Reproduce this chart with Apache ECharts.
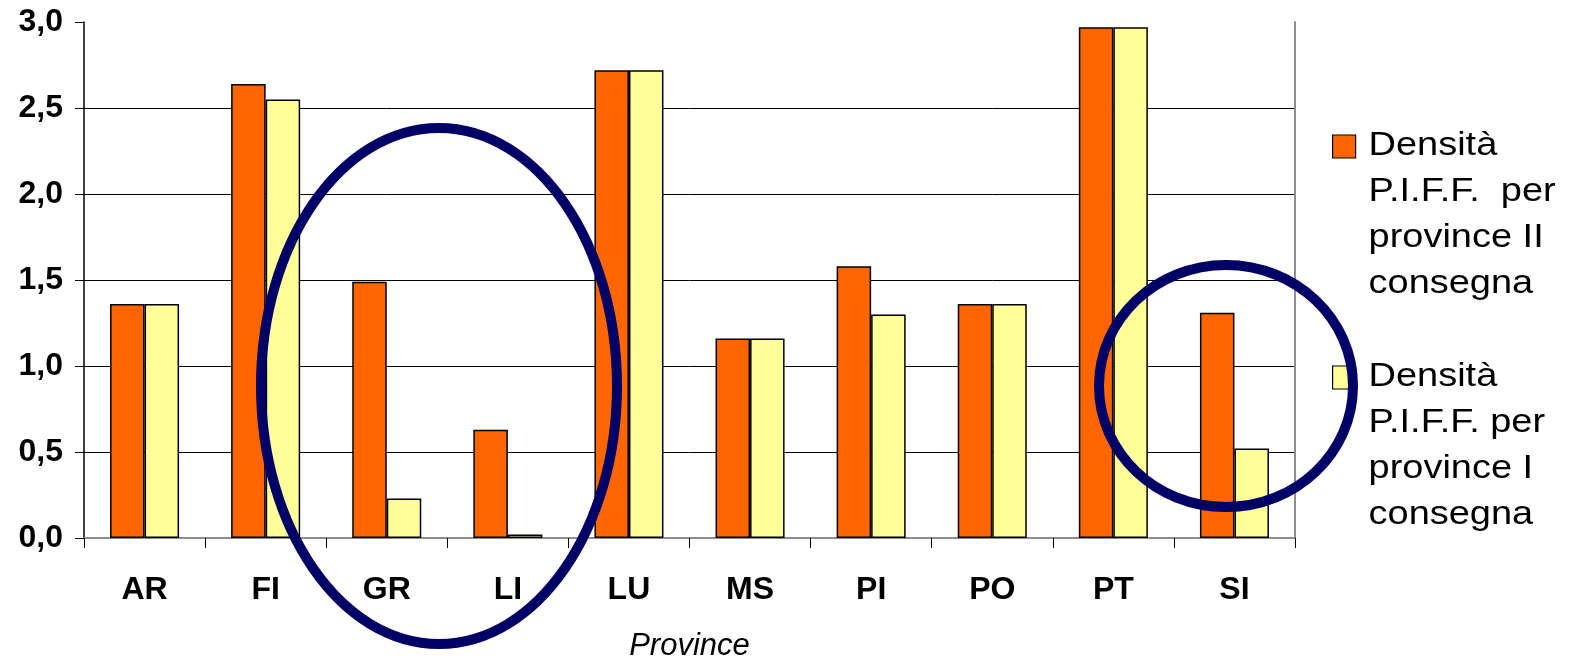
<!DOCTYPE html>
<html>
<head>
<meta charset="utf-8">
<script src="https://cdn.jsdelivr.net/npm/echarts@6/dist/echarts.min.js"></script>
<style>
  html, body { margin: 0; padding: 0; background: #ffffff; }
  #chart { width: 1582px; height: 661px; }
</style>
</head>
<body>
<div id="chart"></div>
<script>
// Provinces on the category axis
const provinces = ['AR', 'FI', 'GR', 'LI', 'LU', 'MS', 'PI', 'PO', 'PT', 'SI'];

// Series names (legend text, one line per row)
const seriesNames = [
  'Densità\nP.I.F.F.  per\nprovince II\nconsegna',
  'Densità\nP.I.F.F. per\nprovince I\nconsegna'
];

// P.I.F.F. density, second delivery
const densitySecond = [1.36, 2.64, 1.49, 0.63, 2.72, 1.16, 1.58, 1.36, 2.97, 1.31];
// P.I.F.F. density, first delivery
const densityFirst = [1.36, 2.55, 0.23, 0.02, 2.72, 1.16, 1.30, 1.36, 2.97, 0.52];

// Value axis ticks
const yTicks = [0, 0.5, 1.0, 1.5, 2.0, 2.5, 3.0];

const xAxisName = 'Province';

const seriesColors = ['#FF6600', '#FFFF99'];
const FONT = '"Liberation Sans", Arial, sans-serif';
const HIGHLIGHT = '#000066';
const FRAME = '#8f8f8f';

const chart = echarts.init(document.getElementById('chart'), null, { renderer: 'canvas' });

const yMin = yTicks[0];
const yMax = yTicks[yTicks.length - 1];
const yStep = yTicks[1] - yTicks[0];

// Legend: swatch + multi-line label, swatch aligned with the first line
function legendItem(i, top) {
  return {
    type: 'group',
    left: 1332,
    top: top,
    children: [
      {
        type: 'rect',
        shape: { x: 0, y: 12, width: 23, height: 23 },
        style: { fill: seriesColors[i], stroke: '#000', lineWidth: 1.2 }
      },
      {
        type: 'text',
        x: 36,
        y: 0,
        scaleX: 1.15,
        style: {
          text: seriesNames[i],
          font: '33px ' + FONT,
          lineHeight: 46,
          fill: '#000',
          verticalAlign: 'top'
        }
      }
    ]
  };
}

const option = {
  backgroundColor: '#ffffff',
  animation: false,
  grid: {
    left: 84, right: 287, top: 22, bottom: 123,
    outerBoundsMode: 'none',
    containLabel: false
  },
  xAxis: [
    {
      type: 'category',
      data: provinces,
      name: xAxisName,
      nameLocation: 'middle',
      nameGap: 93,
      nameTextStyle: { fontFamily: FONT, fontStyle: 'italic', fontSize: 31, color: '#000' },
      axisLine: { lineStyle: { color: '#000', width: 1.5 } },
      axisTick: { show: true, alignWithLabel: false, length: 10, lineStyle: { color: '#000', width: 1 } },
      axisLabel: { fontFamily: FONT, fontWeight: 'bold', fontSize: 32, color: '#000', margin: 36 }
    },
    {
      // plot frame, top edge
      type: 'category',
      data: provinces,
      position: 'top',
      axisLine: { lineStyle: { color: FRAME, width: 2 } },
      axisTick: { show: false },
      axisLabel: { show: false },
      splitLine: { show: false }
    }
  ],
  yAxis: [
    {
      type: 'value',
      min: yMin,
      max: yMax,
      interval: yStep,
      axisLine: { show: true, lineStyle: { color: '#000', width: 1.5 } },
      axisTick: { show: true, length: 9, lineStyle: { color: '#000' } },
      axisLabel: {
        fontFamily: FONT, fontWeight: 'bold', fontSize: 32, color: '#000', margin: 21,
        formatter: v => v.toFixed(1).replace('.', ',')
      },
      splitLine: {
        show: true,
        showMaxLine: false,
        lineStyle: { color: '#000', width: 1 }
      }
    },
    {
      // plot frame, right edge
      type: 'value',
      min: yMin,
      max: yMax,
      interval: yStep,
      position: 'right',
      axisLine: { show: true, lineStyle: { color: FRAME, width: 2 } },
      axisTick: { show: false },
      axisLabel: { show: false },
      splitLine: { show: false }
    }
  ],
  series: [
    {
      name: seriesNames[0],
      type: 'bar',
      data: densitySecond,
      barGap: '0%',
      barCategoryGap: '43%',
      itemStyle: { color: seriesColors[0], borderColor: '#000', borderWidth: 1.5 }
    },
    {
      name: seriesNames[1],
      type: 'bar',
      data: densityFirst,
      barGap: '0%',
      barCategoryGap: '43%',
      itemStyle: { color: seriesColors[1], borderColor: '#000', borderWidth: 1.5 }
    }
  ],
  graphic: [
    legendItem(0, 123),
    legendItem(1, 354),
    // Highlight ring around GR and LI
    {
      type: 'ellipse',
      z: 100,
      shape: { cx: 439, cy: 386, rx: 178, ry: 258 },
      style: { fill: 'none', stroke: HIGHLIGHT, lineWidth: 10 }
    },
    // Highlight ring around SI
    {
      type: 'ellipse',
      z: 100,
      shape: { cx: 1226, cy: 386, rx: 127, ry: 121 },
      style: { fill: 'none', stroke: HIGHLIGHT, lineWidth: 10 }
    }
  ]
};

chart.setOption(option);
</script>
</body>
</html>
